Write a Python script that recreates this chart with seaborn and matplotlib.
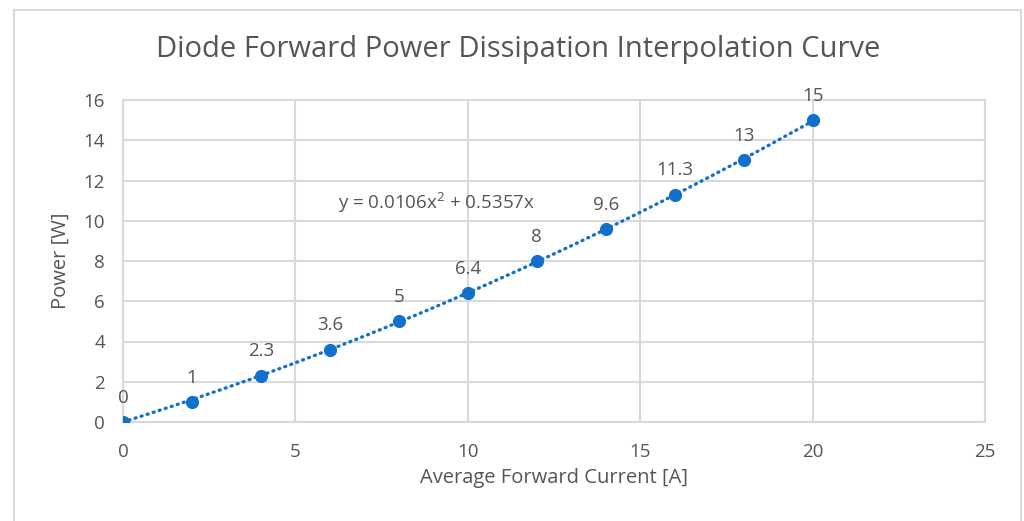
import numpy as np
import pandas as pd
import matplotlib
matplotlib.use("Agg")
import matplotlib.pyplot as plt
import seaborn as sns
from matplotlib.patches import Rectangle

# Data
current = [0, 2, 4, 6, 8, 10, 12, 14, 16, 18, 20]
power = [0, 1, 2.3, 3.6, 5, 6.4, 8, 9.6, 11.3, 13, 15]
labels = ["0", "1", "2.3", "3.6", "5", "6.4", "8", "9.6", "11.3", "13", "15"]
trend_coef = [0.0106, 0.5357]  # y = a*x^2 + b*x
x_ticks = [0, 5, 10, 15, 20, 25]
y_ticks = [0, 2, 4, 6, 8, 10, 12, 14, 16]
title = "Diode Forward Power Dissipation Interpolation Curve"
xlabel = "Average Forward Current [A]"
ylabel = "Power [W]"
equation = "y = 0.0106x$^{2}$ + 0.5357x"

sns.set_theme(style="white")
plt.rcParams['font.family'] = ['Open Sans', 'DejaVu Sans']
plt.rcParams['mathtext.fontset'] = 'custom'
plt.rcParams['mathtext.rm'] = 'Open Sans'

blue = "#1170cc"
text_gray = "#555555"
grid_gray = "#d9d9d9"

fig = plt.figure(figsize=(10.24, 5.21), dpi=100)
ax = fig.add_axes([123/1024, 1 - 422/521, (985-123)/1024, (422-100)/521])

df = pd.DataFrame({"current": current, "power": power})
xs = np.linspace(min(current), max(current), 200)
trend = pd.DataFrame({"x": xs, "y": trend_coef[0]*xs**2 + trend_coef[1]*xs})
sns.lineplot(data=trend, x="x", y="y", ax=ax, color=blue, linewidth=2.4,
             linestyle=(0, (0.3, 1.6)), dash_capstyle="round", zorder=3)
sns.scatterplot(data=df, x="current", y="power", ax=ax, color=blue, s=90,
                edgecolor=blue, linewidth=0, zorder=4)

for xv, yv, lab in zip(current, power, labels):
    ax.annotate(lab, (xv, yv), xytext=(0, 11), textcoords="offset points",
                ha="center", va="bottom", fontsize=13.5, color=text_gray)

ax.text(9.1, 10.9, equation, ha="center", va="center", fontsize=13.5, color=text_gray)

ax.set_xlim(0, 25)
ax.set_ylim(0, 16)
ax.set_xticks(x_ticks)
ax.set_yticks(y_ticks)
ax.grid(True, color=grid_gray, linewidth=1.5)
ax.set_axisbelow(True)
for sp in ax.spines.values():
    sp.set_color(grid_gray)
    sp.set_linewidth(1.5)
ax.tick_params(axis="both", length=0, labelsize=13.5, labelcolor=text_gray)
ax.tick_params(axis="x", pad=15)
ax.tick_params(axis="y", pad=13)
ax.set_xlabel(xlabel, fontsize=14.5, color=text_gray, labelpad=5)
ax.set_ylabel(ylabel, fontsize=14.5, color=text_gray, labelpad=9)

fig.text(518/1024, 1 - 49/521, title, ha="center", va="center", fontsize=21, color=text_gray)

fig.patches.append(Rectangle((14/1024, -0.05), (1021-14)/1024, 1.05 - 10/521,
                             transform=fig.transFigure, fill=False,
                             edgecolor="#d9d9d9", linewidth=1.5, clip_on=False))

fig.savefig("out.png", dpi=100)
